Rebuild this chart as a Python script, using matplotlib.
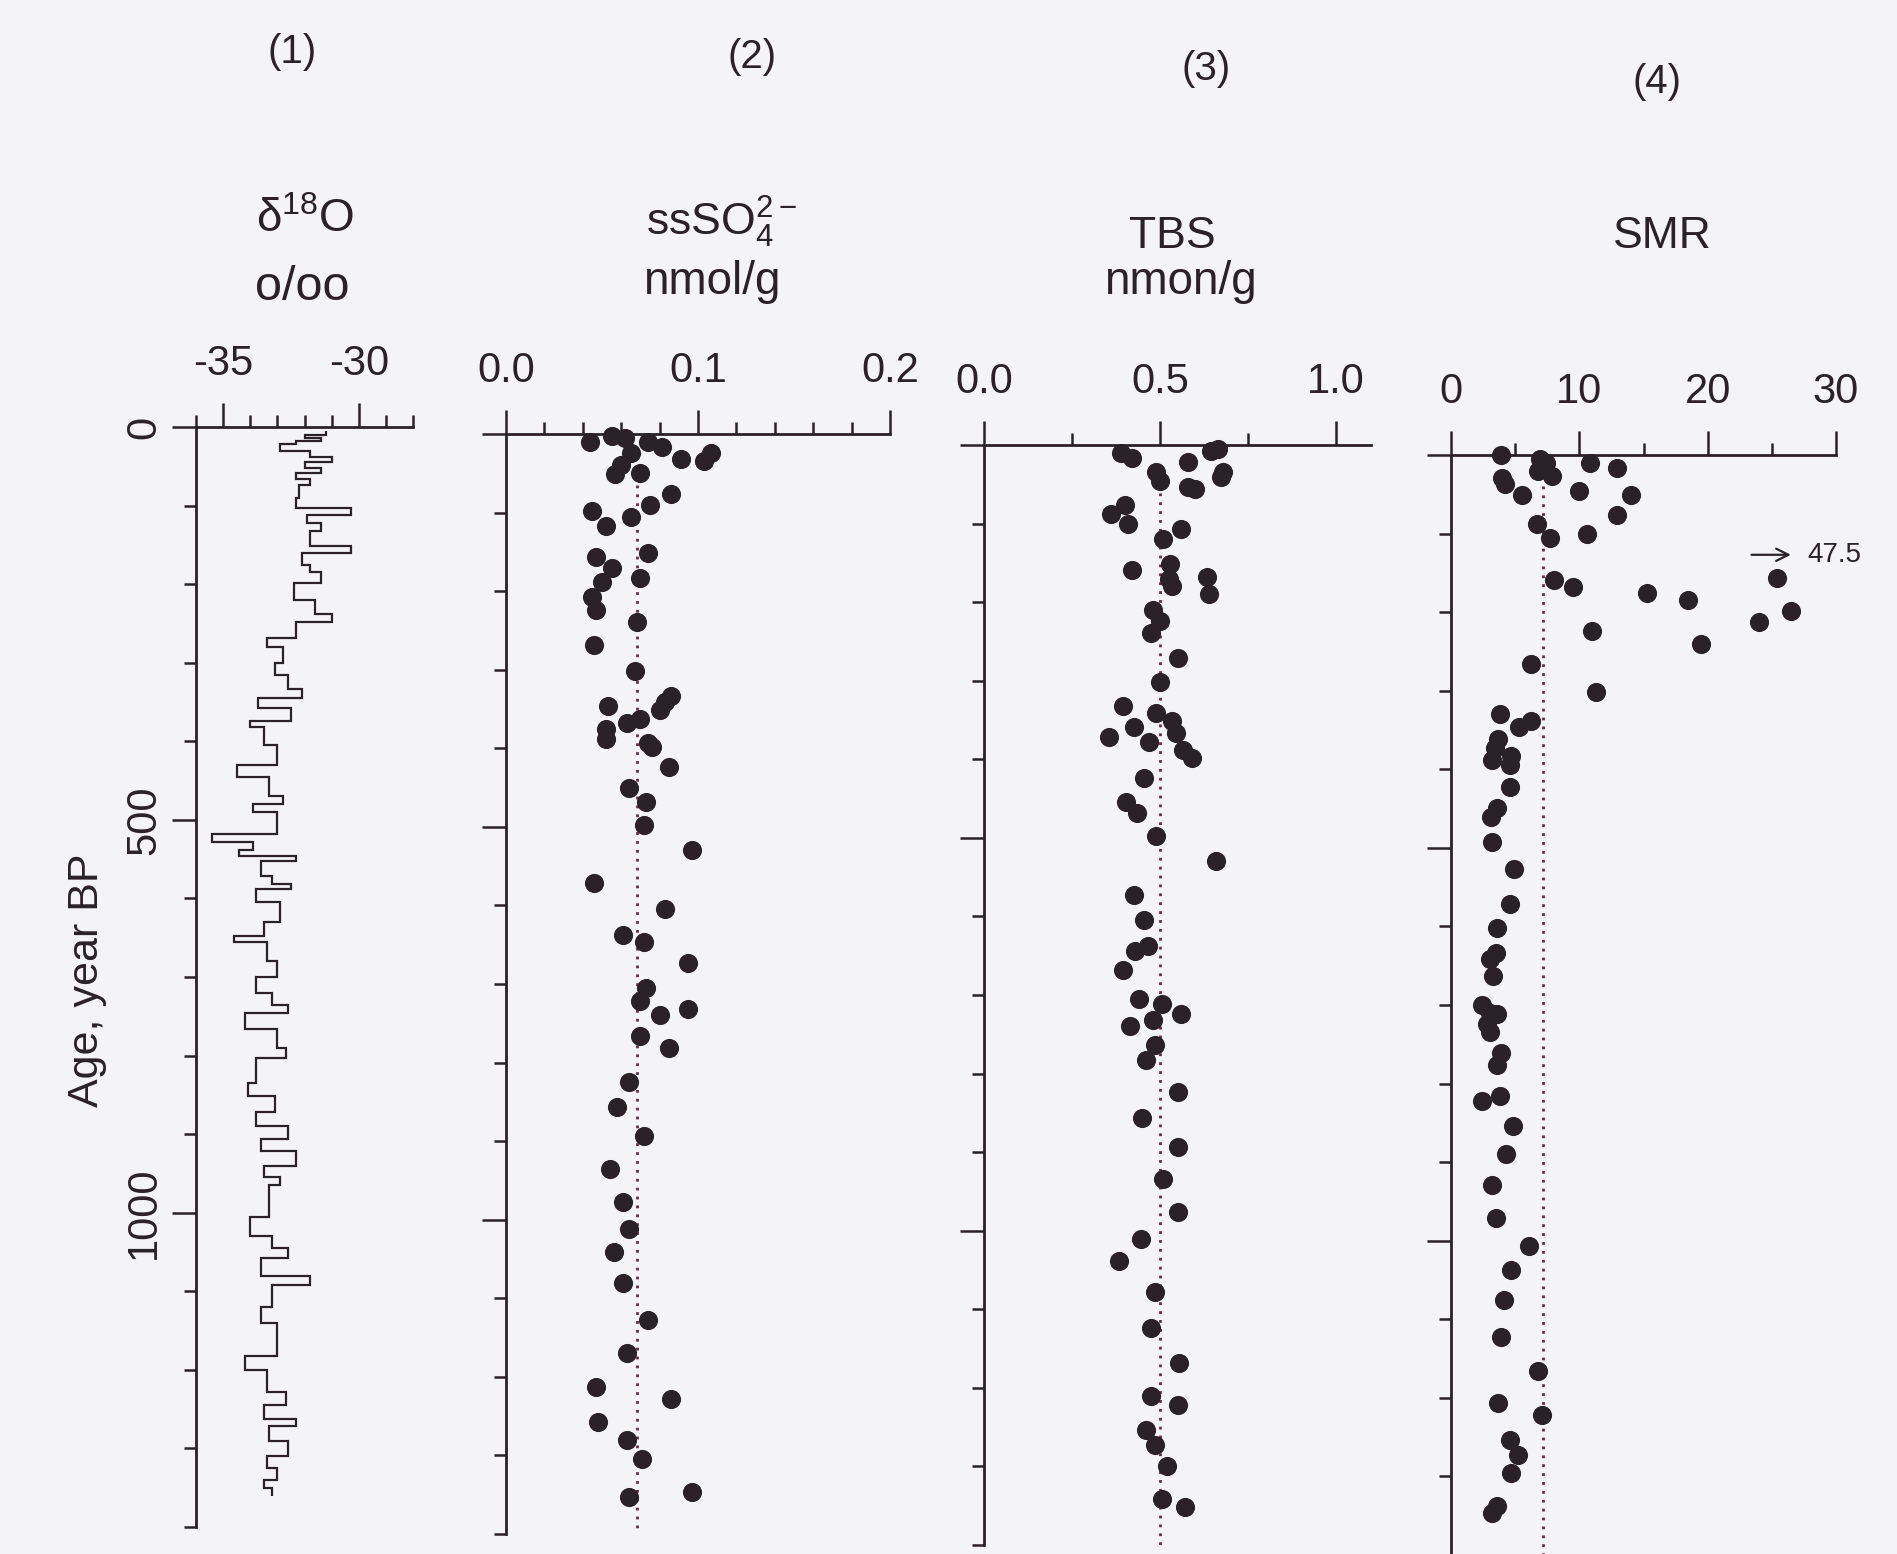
import numpy as np
import matplotlib.pyplot as plt

plt.rcParams["font.family"] = ["Liberation Sans", "DejaVu Sans"]
plt.rcParams["mathtext.fontset"] = "custom"
plt.rcParams["mathtext.rm"] = "Liberation Sans"
plt.rcParams["axes.unicode_minus"] = False

# (1) delta 18O step profile: interval edges (age, yr BP) and values (o/oo)
d18o_edges = [5, 10, 14, 18, 22, 30, 38, 44, 52, 58, 66, 74, 90, 103, 112, 122, 132, 152, 160, 176,
              185, 198, 220, 238, 248, 268, 280, 300, 316, 333, 345, 357, 374, 382, 405, 430, 445, 470,
              480, 490, 518, 528, 538, 546, 552, 572, 582, 588, 605, 630, 648, 656, 680, 700, 720, 735,
              746, 766, 790, 803, 835, 852, 872, 890, 906, 922, 940, 955, 965, 1005, 1030, 1045, 1058,
              1080, 1092, 1120, 1140, 1182, 1200, 1228, 1245, 1262, 1272, 1290, 1310, 1325, 1340, 1350,
              1360]
d18o_vals = [-31.2, -32.0, -31.4, -32.3, -32.9, -31.8, -31.0, -32.0, -31.4, -32.3, -31.8, -32.2, -32.3,
             -30.3, -31.9, -31.4, -31.8, -30.3, -32.1, -31.8, -31.4, -32.4, -31.6, -31.0, -32.3, -33.4,
             -32.8, -33.1, -32.6, -32.1, -33.7, -32.5, -34.0, -33.5, -33.0, -34.5, -33.3, -32.8, -33.9,
             -33.0, -35.4, -33.9, -34.4, -32.3, -33.6, -33.2, -32.5, -33.8, -32.9, -33.5, -34.6, -33.4,
             -33.0, -33.8, -33.2, -32.6, -34.2, -33.0, -32.7, -33.8, -34.1, -33.1, -33.8, -32.6, -33.6,
             -32.3, -33.5, -32.9, -33.3, -34.0, -33.2, -32.6, -33.6, -31.8, -33.2, -33.6, -33.0, -34.2,
             -33.4, -32.7, -33.5, -32.3, -33.3, -32.6, -33.4, -33.0, -33.5, -33.2]

# (2) ssSO4 2- (nmol/g)
so4_age = [10, 2, 5, 24, 10, 17, 32, 34, 24, 39, 51, 49, 76, 90, 98, 117, 105, 151, 156, 171, 188, 207,
           224, 183, 239, 268, 302, 346, 376, 388, 368, 363, 393, 398, 351, 334, 341, 424, 451, 468, 498,
           529, 571, 605, 637, 646, 673, 705, 722, 739, 732, 766, 781, 825, 857, 894, 936, 977, 1012,
           1041, 1081, 1127, 1169, 1213, 1228, 1257, 1280, 1304, 1346, 1353]
so4_val = [0.044, 0.055, 0.062, 0.065, 0.074, 0.081, 0.091, 0.103, 0.107, 0.060, 0.057, 0.070, 0.086,
           0.075, 0.045, 0.052, 0.065, 0.074, 0.047, 0.055, 0.050, 0.045, 0.047, 0.070, 0.068, 0.046,
           0.067, 0.053, 0.052, 0.052, 0.063, 0.070, 0.074, 0.076, 0.080, 0.086, 0.083, 0.085, 0.064,
           0.073, 0.072, 0.097, 0.046, 0.083, 0.061, 0.072, 0.095, 0.073, 0.070, 0.080, 0.095, 0.070,
           0.085, 0.064, 0.058, 0.072, 0.054, 0.061, 0.064, 0.056, 0.061, 0.074, 0.063, 0.047, 0.086,
           0.048, 0.063, 0.071, 0.097, 0.064]
so4_mean = 0.068

# (3) TBS (nmon/g)
tbs_age = [10, 17, 34, 46, 22, 54, 56, 7, 5, 34, 41, 76, 88, 100, 107, 120, 159, 151, 180, 170, 168, 190,
           210, 224, 239, 271, 302, 332, 341, 359, 371, 351, 366, 378, 388, 398, 424, 454, 468, 498, 529,
           573, 605, 637, 644, 668, 705, 712, 724, 732, 739, 763, 783, 824, 856, 893, 934, 976, 1010,
           1039, 1078, 1124, 1168, 1210, 1222, 1254, 1273, 1300, 1341, 1351]
tbs_val = [0.39, 0.42, 0.49, 0.50, 0.58, 0.58, 0.60, 0.645, 0.665, 0.68, 0.675, 0.40, 0.36, 0.41, 0.56,
           0.51, 0.42, 0.53, 0.535, 0.525, 0.635, 0.64, 0.48, 0.50, 0.475, 0.55, 0.50, 0.395, 0.49, 0.425,
           0.355, 0.535, 0.545, 0.47, 0.565, 0.59, 0.455, 0.405, 0.435, 0.49, 0.66, 0.425, 0.455, 0.465,
           0.43, 0.395, 0.44, 0.505, 0.56, 0.48, 0.415, 0.485, 0.46, 0.55, 0.45, 0.55, 0.51, 0.55, 0.445,
           0.385, 0.485, 0.475, 0.555, 0.475, 0.55, 0.46, 0.485, 0.52, 0.505, 0.57]
tbs_mean = 0.50

# (4) SMR
smr_age = [0, 5, 10, 20, 17, 27, 10, 17, 29, 37, 51, 46, 51, 76, 88, 105, 100, 159, 168, 176, 185, 156,
           198, 212, 241, 224, 266, 302, 329, 339, 346, 361, 373, 383, 388, 395, 422, 449, 461, 493, 527,
           571, 602, 634, 641, 663, 700, 710, 712, 724, 734, 761, 776, 822, 816, 854, 889, 929, 971, 1007,
           1037, 1076, 1122, 1166, 1207, 1222, 1254, 1273, 1295, 1337, 1346]
smr_val = [3.9, 6.9, 7.4, 6.8, 7.1, 7.9, 10.8, 12.9, 4.0, 4.2, 5.5, 10.0, 14.0, 12.9, 6.7, 7.7, 10.6, 8.0,
           9.5, 15.3, 18.5, 25.4, 26.5, 24.0, 19.5, 11.0, 6.2, 11.3, 3.8, 6.2, 5.3, 3.7, 3.4, 4.7, 3.2,
           4.6, 4.6, 3.6, 3.1, 3.2, 4.9, 4.6, 3.6, 3.5, 3.0, 3.3, 2.4, 3.0, 3.6, 2.8, 3.0, 3.9, 3.6, 2.4,
           3.8, 4.8, 4.3, 3.2, 3.5, 6.1, 4.7, 4.1, 3.9, 6.8, 3.7, 7.1, 4.6, 5.2, 4.7, 3.6, 3.2]
smr_mean = 7.2
smr_offscale_age = 127
smr_offscale_label = "47.5"

ink = "#2a2226"
dotc = "#6a2846"
bg = "#f4f4f6"

W, Hf = 1897, 1554
PH = 1100
fig = plt.figure(figsize=(W / 100, Hf / 100), dpi=100, facecolor=bg)


def panel(left, top, width):
    ax = fig.add_axes([left / W, 1 - (top + PH) / Hf, width / W, PH / Hf])
    ax.set_facecolor("none")
    ax.set_ylim(1400, 0)
    for s in ["right", "bottom"]:
        ax.spines[s].set_visible(False)
    for s in ["left", "top"]:
        ax.spines[s].set_linewidth(2)
        ax.spines[s].set_color(ink)
    ax.xaxis.set_ticks_position("top")
    ax.set_yticks([0, 500, 1000])
    ax.set_yticks([100, 200, 300, 400, 600, 700, 800, 900, 1100, 1200, 1300, 1400], minor=True)
    ax.tick_params(which="major", length=17, width=1.8, color=ink, labelsize=30, labelcolor=ink, pad=14)
    ax.tick_params(which="minor", length=8.5, width=1.8, color=ink)
    ax.tick_params(axis="y", labelleft=False)
    return ax


ax1 = panel(196, 427, 217)
ax2 = panel(506, 434, 384)
ax3 = panel(984, 445, 387)
ax4 = panel(1451, 455, 385)

# panel 1
ax1.set_xlim(-36, -28)
ax1.set_xticks([-35, -30])
ax1.set_xticklabels(["-35", "-30"])
ax1.set_xticks([-36, -34, -33, -32, -31, -29, -28], minor=True)
ax1.stairs(d18o_vals, d18o_edges, orientation="horizontal", baseline=None, color=ink, lw=1.6)
ax1.tick_params(axis="y", labelleft=True, pad=6)
for lab in ax1.get_yticklabels():
    lab.set_rotation(90)
    lab.set_va("center")

# panel 2
ax2.set_xlim(0, 0.2)
ax2.set_xticks([0, 0.1, 0.2])
ax2.set_xticklabels(["0.0", "0.1", "0.2"])
ax2.set_xticks([0.02, 0.04, 0.06, 0.08, 0.12, 0.14, 0.16, 0.18], minor=True)
ax2.plot([so4_mean, so4_mean], [65, 1400], color=dotc, lw=2, ls=(0, (1, 2.2)))
ax2.scatter(so4_val, so4_age, s=190, color=ink, lw=0, clip_on=False, zorder=3)

# panel 3
ax3.set_xlim(0, 1.1)
ax3.set_xticks([0, 0.5, 1.0])
ax3.set_xticklabels(["0.0", "0.5", "1.0"])
ax3.set_xticks([0.25, 0.75], minor=True)
ax3.plot([tbs_mean, tbs_mean], [50, 1400], color=dotc, lw=2, ls=(0, (1, 2.2)))
ax3.scatter(tbs_val, tbs_age, s=190, color=ink, lw=0, clip_on=False, zorder=3)

# panel 4
ax4.set_xlim(0, 30)
ax4.set_xticks([0, 10, 20, 30])
ax4.set_xticks([5, 15, 25], minor=True)
ax4.plot([smr_mean, smr_mean], [40, 1400], color=dotc, lw=2, ls=(0, (1, 2.2)))
ax4.scatter(smr_val, smr_age, s=190, color=ink, lw=0, clip_on=False, zorder=3)
ax4.annotate("", xy=(26.7, smr_offscale_age), xytext=(23.2, smr_offscale_age),
             arrowprops=dict(arrowstyle="->", color=ink, lw=1.6, mutation_scale=22),
             annotation_clip=False)
ax4.text(27.8, smr_offscale_age, smr_offscale_label, fontsize=20, color=ink,
         va="center", ha="left", clip_on=False)

# headers
def ftext(x, y, s, size, **kw):
    fig.text(x / W, 1 - y / Hf, s, fontsize=size, color=ink, ha="center", va="center", **kw)


ftext(292, 52, "(1)", 29)
ftext(752, 57, "(2)", 29)
ftext(1206, 69, "(3)", 29)
ftext(1657, 82, "(4)", 29)

ftext(305, 220, r"δ$^{\mathregular{18}}$O", 33)
ftext(302, 288, "o/oo", 35)
ftext(722, 222, r"ssSO$_{\mathregular{4}}^{\mathregular{2-}}$", 32)
ftext(712, 282, "nmol/g", 33)
ftext(1172, 236, "TBS", 32)
ftext(1180, 282, "nmon/g", 33)
ftext(1662, 236, "SMR", 32)

fig.text(87 / W, 1 - 980 / Hf, "Age, year BP", fontsize=31, color=ink, rotation=90,
         ha="center", va="center")

fig.savefig("out.png", dpi=100, facecolor=bg)
